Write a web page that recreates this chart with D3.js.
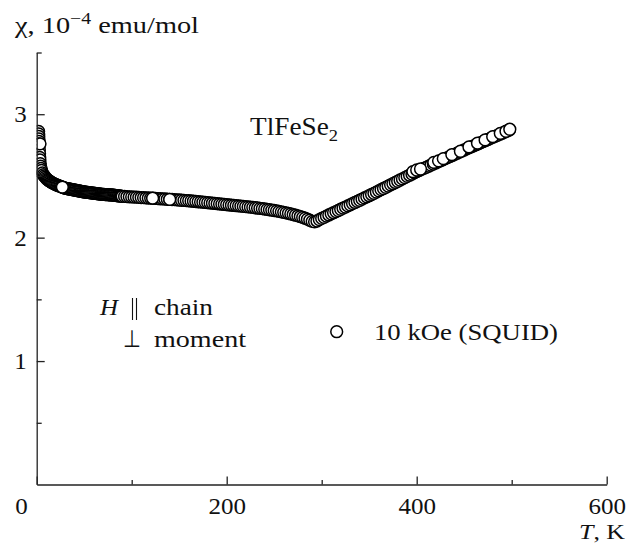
<!DOCTYPE html>
<html><head><meta charset="utf-8">
<script src="https://cdn.jsdelivr.net/npm/d3@7"></script>
<style>
body{margin:0;background:#fff;}
svg text{font-family:"Liberation Serif","Times New Roman",serif;fill:#111;}
</style></head>
<body><svg id="c" width="630" height="543"></svg>
<script>
// ---- data ----
const xTicksMajor = [0, 200, 400, 600];
const xTicksMinor = [100, 300, 500];
const yTicksMajor = [1, 2, 3];
const yTicksMinor = [0.5, 1.5, 2.5, 3.5];

const temperature = [
 2, 2.1, 2.2, 2.3, 2.4, 2.5, 2.6, 2.8, 3, 3.2, 3.4, 3.7, 4, 4.5, 5, 6, 7, 8, 9, 10,
 11,12,13,14,15,16,17,18,19,20,21,22,23,24,25,26,27,28,29,30,
 31,32,33,34,35,36,37,38,39,40,41,42,43,44,45,46,47,48,49,50,
 51,52,53,54,55,56,57,58,59,60,61,62,63,64,65,66,67,68,69,70,
 71,72,73,74,75,76,77,78,79,80,81,82,83,84,85,86,87,88,89,90,
 92.5,95,97.5,100,102.5,105,107.5,110,112.5,115,117.5,120,122.5,125,127.5,130,
 132.5,135,137.5,140,142.5,145,147.5,150,152.5,155,157.5,160,162.5,165,167.5,170,
 172.5,175,177.5,180,182.5,185,187.5,190,192.5,195,197.5,200,202.5,205,207.5,210,
 212.5,215,217.5,220,222.5,225,227.5,230,232.5,235,237.5,240,242.5,245,247.5,250,
 252.5,255,257.5,260,262.5,265,267.5,270,272.5,275,277.5,280,282.5,285,287.5,290,
 292.5,295,297.5,300,302.5,305,307.5,310,312.5,315,317.5,320,322.5,325,327.5,330,
 332.5,335,337.5,340,342.5,345,347.5,350,352.5,355,357.5,360,362.5,365,367.5,370,
 372.5,375,377.5,380,382.5,385,387.5,390,392.5,395,397.5,400,402.5,405,407.5,410,
 412.5,415,417.5,420,422.5,425,427.5,430,432.5,435,437.5,440,442.5,445,447.5,450,
 452.5,455,457.5,460,462.5,465,467.5,470,472.5,475,477.5,480,482.5,485,487.5,490,
 492.5,495,497.5,
 3.5, 27, 122, 140,
 396, 400, 404, 418, 423, 428, 437, 446, 455, 464, 472, 480, 488, 494, 498
];
const chi = [
 2.86,2.84,2.82,2.80,2.78,2.76,2.74,2.71,2.68,2.65,2.63,2.60,2.58,2.56,2.545,2.525,2.51,2.50,2.49,2.48,
 2.472,2.466,2.461,2.456,2.450,2.446,2.442,2.438,2.434,2.430,2.427,2.424,2.421,2.418,2.415,2.412,2.409,2.406,2.403,2.400,
 2.399,2.397,2.396,2.394,2.393,2.391,2.390,2.388,2.387,2.385,2.384,2.382,2.381,2.379,2.378,2.376,2.375,2.373,2.372,2.370,
 2.369,2.368,2.367,2.366,2.365,2.364,2.363,2.362,2.361,2.360,2.359,2.358,2.357,2.356,2.355,2.354,2.353,2.352,2.351,2.350,
 2.350,2.349,2.349,2.348,2.348,2.347,2.347,2.346,2.346,2.345,2.344,2.343,2.342,2.341,2.340,2.339,2.338,2.337,2.336,2.335,
 2.334,2.333,2.331,2.330,2.329,2.328,2.326,2.325,2.324,2.323,2.321,2.320,2.319,2.318,2.316,2.315,
 2.314,2.313,2.311,2.310,2.309,2.308,2.306,2.305,2.303,2.302,2.300,2.299,2.297,2.295,2.293,2.291,
 2.289,2.287,2.285,2.283,2.281,2.279,2.277,2.275,2.273,2.271,2.269,2.267,2.265,2.263,2.261,2.259,
 2.257,2.255,2.253,2.251,2.249,2.247,2.245,2.242,2.240,2.237,2.235,2.232,2.229,2.226,2.223,2.220,
 2.217,2.213,2.209,2.205,2.201,2.197,2.192,2.187,2.182,2.177,2.171,2.164,2.157,2.150,2.141,2.132,
 2.128,2.135,2.146,2.156,2.165,2.174,2.184,2.193,2.202,2.211,2.220,2.230,2.239,2.248,2.257,2.266,
 2.276,2.285,2.294,2.303,2.312,2.322,2.331,2.340,2.350,2.359,2.369,2.379,2.389,2.398,2.408,2.418,
 2.428,2.437,2.447,2.457,2.467,2.476,2.486,2.496,2.506,2.515,2.525,2.535,2.544,2.553,2.561,2.570,
 2.579,2.588,2.596,2.605,2.614,2.623,2.631,2.640,2.649,2.658,2.666,2.675,2.684,2.693,2.701,2.710,
 2.719,2.727,2.736,2.744,2.753,2.761,2.770,2.778,2.787,2.795,2.804,2.812,2.821,2.829,2.838,2.846,
 2.855,2.863,2.872,
 2.76, 2.41, 2.32, 2.31,
 2.535, 2.548, 2.556, 2.610, 2.622, 2.640, 2.672, 2.700, 2.735, 2.765, 2.792, 2.818, 2.845, 2.862, 2.878
];

// ---- drawing ----
const svg = d3.select("#c");
const x = d3.scaleLinear().domain([0, 600]).range([36.7, 606.7]);
const y = d3.scaleLinear().domain([0, 3.5]).range([484.5, 52.5]);

const axisColor = "#222";
const markR = 5.9, markStroke = 1.5;

svg.append("defs").append("clipPath").attr("id", "plotclip").append("rect")
  .attr("x", x(0)).attr("y", y(3.5)).attr("width", x(600) - x(0)).attr("height", y(0) - y(3.5));

// data points (drawn first, clipped to the frame)
const pts = temperature.map((t, i) => ({t, c: chi[i]}));
svg.append("g").attr("clip-path", "url(#plotclip)")
  .selectAll("circle").data(pts).join("circle")
  .attr("cx", d => x(d.t)).attr("cy", d => y(d.c)).attr("r", markR)
  .attr("fill", "#fff").attr("stroke", "#000").attr("stroke-width", markStroke);

// x axis
const gx = svg.append("g").attr("transform", `translate(0,${y(0)})`)
  .call(d3.axisBottom(x).tickValues(xTicksMajor).tickSizeInner(-8).tickSizeOuter(0).tickPadding(12).tickFormat(d3.format("d")));
gx.append("g").call(d3.axisBottom(x).tickValues(xTicksMinor).tickSizeInner(-4.5).tickSizeOuter(0).tickFormat(""))
  .select(".domain").remove();
// y axis
const gy = svg.append("g").attr("transform", `translate(${x(0)},0)`)
  .call(d3.axisLeft(y).tickValues(yTicksMajor).tickSizeInner(-8).tickSizeOuter(0).tickPadding(10).tickFormat(d3.format("d")));
gy.append("g").call(d3.axisLeft(y).tickValues(yTicksMinor).tickSizeInner(-5).tickSizeOuter(0).tickFormat(""))
  .select(".domain").remove();

svg.selectAll(".domain").attr("stroke", axisColor).attr("stroke-width", 1.3);
svg.selectAll(".tick line").attr("stroke", axisColor).attr("stroke-width", 1.3);
svg.selectAll(".tick text").attr("font-family", "Liberation Serif").attr("font-size", 24).attr("fill", "#111")
  .attr("textLength", d => String(d).length * 12.5).attr("lengthAdjust", "spacingAndGlyphs");
// origin label sits left of the axis corner
gx.selectAll(".tick").filter(d => d === 0).select("text").attr("x", -15.7);

function stretched(sel, w) {
  return sel.attr("textLength", w).attr("lengthAdjust", "spacingAndGlyphs");
}

// y axis title
const yt = svg.append("text").attr("x", 15).attr("y", 33).attr("font-size", 23);
yt.append("tspan").text("χ, 10");
yt.append("tspan").attr("font-size", 16).attr("dy", -9).text("−4");
yt.append("tspan").attr("dy", 9).text(" emu/mol");
stretched(yt, 184);

// x axis title
const xt = svg.append("text").attr("x", 579).attr("y", 539).attr("font-size", 22);
xt.append("tspan").attr("font-style", "italic").text("T");
xt.append("tspan").text(", K");
stretched(xt, 46);

// compound label
const cl = svg.append("text").attr("x", 250).attr("y", 135).attr("font-size", 25);
cl.append("tspan").text("TlFeSe");
cl.append("tspan").attr("font-size", 17).attr("dy", 6).text("2");
stretched(cl, 88);

// orientation labels
stretched(svg.append("text").attr("x", 100).attr("y", 315).attr("font-size", 24).attr("font-style", "italic").text("H"), 18);
svg.append("line").attr("x1", 132.5).attr("x2", 132.5).attr("y1", 298).attr("y2", 320).attr("stroke", "#111").attr("stroke-width", 1.1);
svg.append("line").attr("x1", 136.5).attr("x2", 136.5).attr("y1", 298).attr("y2", 320).attr("stroke", "#111").attr("stroke-width", 1.1);
stretched(svg.append("text").attr("x", 154).attr("y", 315).attr("font-size", 24).text("chain"), 59);
stretched(svg.append("text").attr("x", 123).attr("y", 347).attr("font-size", 24).text("⊥"), 18);
stretched(svg.append("text").attr("x", 154).attr("y", 347).attr("font-size", 24).text("moment"), 92);

// legend
svg.append("circle").attr("cx", 336.7).attr("cy", 331.7).attr("r", markR)
  .attr("fill", "#fff").attr("stroke", "#000").attr("stroke-width", markStroke);
stretched(svg.append("text").attr("x", 374).attr("y", 340).attr("font-size", 24).text("10 kOe (SQUID)"), 184);
</script></body></html>
